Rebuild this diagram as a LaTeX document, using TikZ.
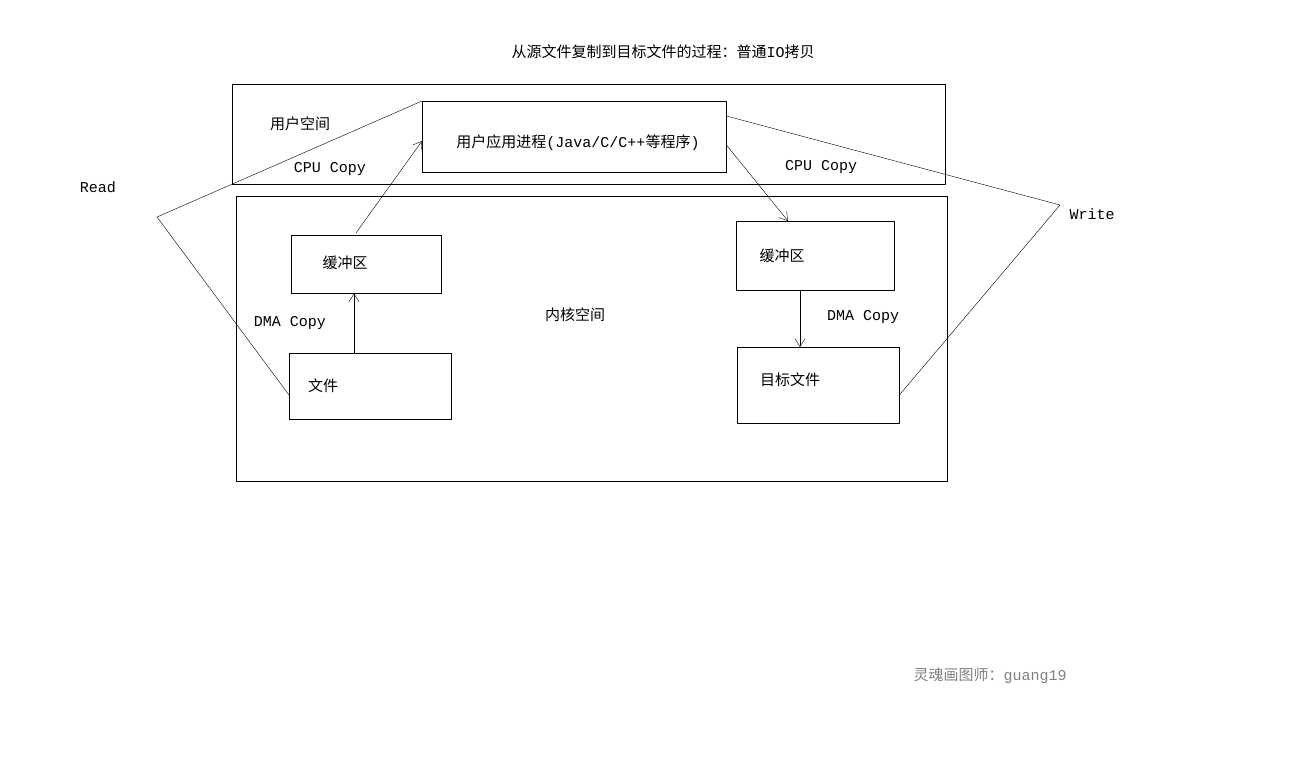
\documentclass[tikz,border=0pt]{standalone}
\usepackage{fontspec}
\newfontfamily\cjk{Noto Sans CJK SC}
\newfontfamily\mono{Liberation Mono}
\begin{document}
\begin{tikzpicture}[x=1pt,y=-1pt,
  box/.style={draw,thick,minimum width=0,inner sep=0},
  lab/.style={font=\mono\fontsize{15}{15}\selectfont,inner sep=0},
  clab/.style={font=\cjk\fontsize{15}{15}\selectfont,inner sep=0},
  arr/.style={->,>={Straight Barb[length=8pt,width=10pt]}}]
\usetikzlibrary{arrows.meta}
\useasboundingbox (0,0) rectangle (1293,783);
\node[clab] (title) at (663,52) {从源文件复制到目标文件的过程：普通{\mono IO}拷贝};
\draw (232,84) rectangle (945,184);
\draw (236,196) rectangle (947,481);
\node[draw,minimum width=304pt,minimum height=71pt,anchor=north west,inner sep=0] (app) at (422,101) {};
\draw (423,184) -- (726,184);
\node[clab] at (578,143) {用户应用进程{\mono(Java/C/C++}等程序{\mono)}};
\node[clab] at (300,124) {用户空间};
\node[lab] at (330,169) {CPU Copy};
\node[lab] at (821,167) {CPU Copy};
\node[draw,minimum width=150pt,minimum height=58pt,anchor=north west] (lb) at (291,235) {};
\node[clab] at (345,263) {缓冲区};
\node[draw,minimum width=162pt,minimum height=66pt,anchor=north west] (f) at (289,353) {};
\node[clab] at (323,386) {文件};
\node[lab] at (290,323) {DMA Copy};
\node[draw,minimum width=158pt,minimum height=69pt,anchor=north west] (rb) at (736,221) {};
\node[clab] at (782,256) {缓冲区};
\node[draw,minimum width=162pt,minimum height=76pt,anchor=north west] (tf) at (737,347) {};
\node[clab] at (790,380) {目标文件};
\node[lab] at (863,317) {DMA Copy};
\node[clab] at (575,315) {内核空间};
\draw[arr] (f.north -| 354,0) -- (lb.south -| 354,0);
\draw[arr] (356,233) -- (app.west |- 0,141);
\draw[arr] (app.east |- 0,145) -- (rb.north -| 788,0);
\draw[arr] (rb.south -| 800,0) -- (tf.north -| 800,0);
\coordinate (rd) at (157,217);
\coordinate (wr) at (1060,205);
\draw (f.west |- 0,395) -- (rd) -- (app.north west);
\draw (app.east |- 0,116) -- (wr) -- (tf.east |- 0,395);
\node[lab] at (98,187) {Read};
\node[lab] at (1092,214) {Write};
\node[clab,text=gray] at (990,676) {灵魂画图师：{\mono guang19}};
\end{tikzpicture}
\end{document}
